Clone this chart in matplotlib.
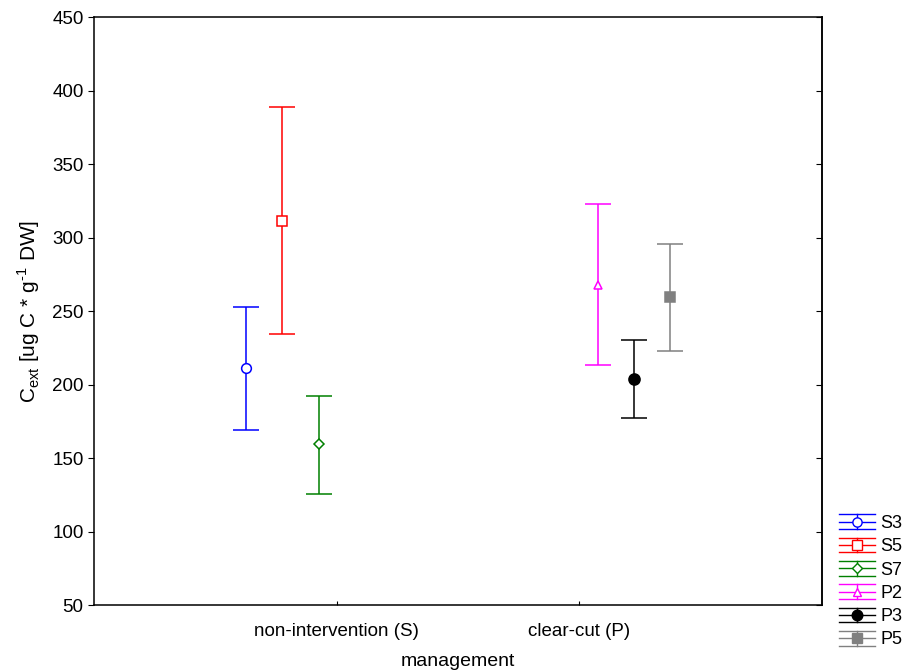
import numpy as np
import matplotlib.pyplot as plt
from matplotlib.lines import Line2D
from matplotlib.legend_handler import HandlerBase

plt.rcParams['font.family'] = ['Liberation Sans', 'DejaVu Sans']
plt.rcParams['mathtext.fontset'] = 'custom'
plt.rcParams['mathtext.rm'] = 'Liberation Sans'

# data
categories = ['non-intervention (S)', 'clear-cut (P)']
series = ['S3', 'S5', 'S7', 'P2', 'P3', 'P5']
group = [0, 0, 0, 1, 1, 1]
means = [211, 311, 159.5, 267.5, 204, 259.5]
lower = [169, 234.5, 125.5, 213.5, 177.5, 223]
upper = [252.5, 388.5, 192.5, 322.5, 230, 295.5]

colors = ['blue', 'red', 'green', 'magenta', 'black', 'gray']
markers = ['o', 's', 'D', '^', 'o', 's']
filled = [False, False, False, False, True, True]
msizes = [7, 7, 5, 6, 8, 7]


class ErrHandler(HandlerBase):
    def __init__(self, color, marker, fill, ms):
        super().__init__()
        self.c, self.m, self.f, self.ms = color, marker, fill, ms

    def create_artists(self, legend, orig, xd, yd, w, h, fs, trans):
        yc = h / 2 - yd
        d = h * 0.46
        arts = []
        for yy in (yc - d, yc, yc + d):
            arts.append(Line2D([-xd, w - xd], [yy, yy], color=self.c, lw=1, transform=trans))
        arts.append(Line2D([w / 2 - xd] * 2, [yc - d, yc + d], color=self.c, lw=1, transform=trans))
        arts.append(Line2D([w / 2 - xd], [yc], marker=self.m, ms=self.ms * 0.95, color=self.c,
                           mfc=self.c if self.f else 'white', mec=self.c, transform=trans))
        return arts


fig = plt.figure(figsize=(9.06, 6.72), dpi=100)
ax = fig.add_axes([0.1038, 0.0997, 0.8035, 0.875])

handles = []
hmap = {}
for k in range(len(series)):
    x = group[k] - 0.375 + 0.15 * k
    err = [[means[k] - lower[k]], [upper[k] - means[k]]]
    ax.errorbar([x], [means[k]], yerr=err, color=colors[k], capsize=9.5, elinewidth=1.1,
                capthick=1.1, marker=markers[k], ms=msizes[k],
                mfc=colors[k] if filled[k] else 'white', mec=colors[k], mew=1.1)
    h = Line2D([], [], label=series[k])
    handles.append(h)
    hmap[h] = ErrHandler(colors[k], markers[k], filled[k], msizes[k])

ax.set_xlim(-1, 2)
ax.set_ylim(50, 450)
ax.set_yticks(np.arange(50, 451, 50))
ax.set_xticks([0, 1])
ax.set_xticklabels(categories)
ax.tick_params(axis='y', direction='out', length=4, labelsize=13.5)
ax.tick_params(axis='x', direction='in', length=3, labelsize=13.5, pad=13)
sec = ax.secondary_yaxis('right')
sec.set_yticks(np.arange(50, 451, 50))
sec.tick_params(direction='in', length=4, labelright=False)
for sp in list(ax.spines.values()) + list(sec.spines.values()):
    sp.set_linewidth(1.1)
ax.set_xlabel('management', fontsize=14, labelpad=9)
ax.set_ylabel(r'C$_{\mathregular{ext}}$ [ug C * g$^{\text{-1}}$ DW]', fontsize=15, labelpad=7)

leg = fig.legend(handles=handles, handler_map=hmap, loc='lower left',
                 bbox_to_anchor=(0.926, 0.035), frameon=False, fontsize=13,
                 handlelength=2.0, handleheight=1.0, labelspacing=0.28, handletextpad=0.3,
                 borderaxespad=0, borderpad=0)

plt.savefig('out.png', dpi=100)
